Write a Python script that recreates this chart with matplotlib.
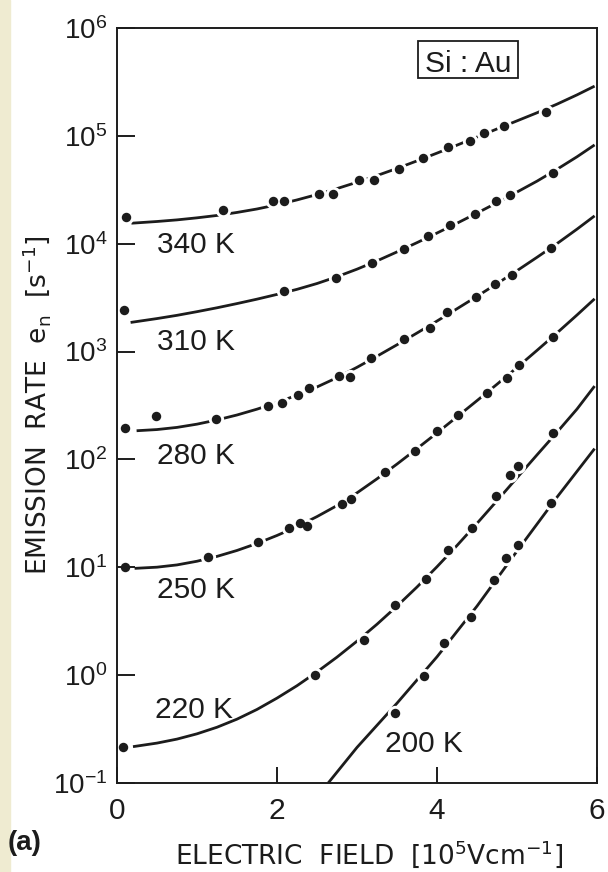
import numpy as np
import matplotlib.pyplot as plt
from matplotlib.patches import Rectangle
from matplotlib.ticker import NullLocator

# emission rate e_n [s^-1] of the Au acceptor level in Si vs. electric field [1e5 V/cm]
field_340 = [0.11, 1.33, 1.95, 2.09, 2.52, 2.70, 3.03, 3.21, 3.52, 3.82, 4.14, 4.41, 4.59, 4.84, 5.36]
rate_340 = [17800, 20400, 25100, 25100, 28700, 28700, 38900, 38900, 49000, 61700, 78300, 89100,
            106000, 124000, 166000]

field_310 = [0.09, 2.09, 2.74, 3.19, 3.59, 3.89, 4.16, 4.47, 4.74, 4.91, 5.45]
rate_310 = [2430, 3650, 4790, 6670, 8910, 11700, 14900, 18900, 24700, 28200, 45000]

field_280 = [0.10, 0.49, 1.24, 1.89, 2.06, 2.26, 2.40, 2.78, 2.91, 3.17, 3.59, 3.91, 4.12, 4.49,
             4.73, 4.94, 5.43]
rate_280 = [197, 253, 235, 315, 336, 398, 456, 594, 585, 867, 1300, 1640, 2310, 3180, 4210, 5130, 9060]

field_250 = [0.10, 1.14, 1.76, 2.15, 2.29, 2.37, 2.81, 2.93, 3.35, 3.73, 4.00, 4.26, 4.63, 4.87,
             5.03, 5.45]
rate_250 = [10.0, 12.4, 17.1, 23.0, 25.9, 24.2, 38.6, 43.0, 77.1, 120, 184, 258, 410, 565, 752, 1360]

field_220 = [0.08, 2.47, 3.09, 3.48, 3.86, 4.14, 4.44, 4.74, 4.91, 5.01, 5.45]
rate_220 = [0.217, 1.0, 2.12, 4.47, 7.80, 14.5, 23.3, 45.8, 71.8, 87.5, 175]

field_200 = [3.48, 3.84, 4.09, 4.42, 4.71, 4.86, 5.01, 5.42]
rate_200 = [0.449, 0.982, 1.97, 3.48, 7.62, 12.3, 16.1, 39.7]

# calculated curves, log10(e_n) on a common field grid (first entry = start of each curve)
curve_grid = [0.5, 0.75, 1.0, 1.25, 1.5, 1.75, 2.0, 2.25, 2.5, 2.75, 3.0, 3.25, 3.5, 3.75, 4.0,
              4.25, 4.5, 4.75, 5.0, 5.25, 5.5, 5.75, 5.97]
curve_start = {"340 K": 0.18, "310 K": 0.17, "280 K": 0.245, "250 K": 0.22, "220 K": 0.20}
log_curve_340 = [4.19, 4.206, 4.221, 4.24, 4.262, 4.29, 4.322, 4.361, 4.406, 4.456, 4.511, 4.57,
                 4.632, 4.698, 4.768, 4.84, 4.914, 4.989, 5.064, 5.139, 5.214, 5.294, 5.38, 5.461]
log_curve_310 = [3.27, 3.306, 3.336, 3.37, 3.406, 3.445, 3.486, 3.53, 3.577, 3.631, 3.694, 3.764,
                 3.841, 3.924, 4.01, 4.099, 4.19, 4.284, 4.38, 4.479, 4.58, 4.69, 4.806, 4.916]
log_curve_280 = [2.266, 2.277, 2.297, 2.327, 2.366, 2.412, 2.466, 2.527, 2.596, 2.672, 2.758, 2.854,
                 2.957, 3.063, 3.172, 3.283, 3.397, 3.512, 3.63, 3.75, 3.874, 4.001, 4.135, 4.258]
log_curve_250 = [0.99, 1.001, 1.022, 1.056, 1.101, 1.156, 1.221, 1.295, 1.377, 1.47, 1.572, 1.69,
                 1.82, 1.957, 2.10, 2.246, 2.395, 2.545, 2.697, 2.852, 3.011, 3.173, 3.339, 3.489]
log_curve_220 = [-0.663, -0.63, -0.593, -0.544, -0.483, -0.408, -0.318, -0.213, -0.098, 0.03, 0.167,
                 0.315, 0.472, 0.64, 0.817, 1.005, 1.202, 1.407, 1.617, 1.83, 2.042, 2.252, 2.467, 2.68]

curve_field_200 = [2.64, 3.0, 3.5, 4.0, 4.5, 5.0, 5.5, 5.97]
log_curve_200 = [-1.0, -0.67, -0.26, 0.17, 0.64, 1.15, 1.65, 2.10]

temperatures = ["340 K", "310 K", "280 K", "250 K", "220 K", "200 K"]

INK = "#1c1c1c"

plt.rcParams["font.family"] = ["Liberation Sans", "DejaVu Sans"]

fig = plt.figure(figsize=(6.08, 8.72), dpi=100)
ax = fig.add_axes([117 / 608, 89 / 872, 480 / 608, 755 / 872])

# page edge of the scan
fig.patches.append(Rectangle((0, 0), 10 / 608, 1, transform=fig.transFigure,
                             color="#efebd1", zorder=0))

measured = [(field_340, rate_340), (field_310, rate_310), (field_280, rate_280),
            (field_250, rate_250), (field_220, rate_220), (field_200, rate_200)]
log_curves = [log_curve_340, log_curve_310, log_curve_280, log_curve_250, log_curve_220]
curves = [([curve_start[t]] + curve_grid, np.power(10.0, lc))
          for t, lc in zip(temperatures[:5], log_curves)]
curves.append((curve_field_200, np.power(10.0, log_curve_200)))

label_pos = [(0.50, 8200), (0.50, 1035), (0.50, 90.7), (0.50, 5.19), (0.475, 0.40), (3.35, 0.194)]

for (cx, cy), (mx, my), name, (lx, ly) in zip(curves, measured, temperatures, label_pos):
    ax.plot(cx, cy, color=INK, lw=2.0, solid_capstyle="butt", solid_joinstyle="round", zorder=2)
    # white halo so the curve is broken around each point
    ax.plot(mx, my, "o", ms=11, color="white", mec="none", zorder=3)
    ax.plot(mx, my, "o", ms=6.8, color=INK, mec="none", zorder=4)
    ax.text(lx, ly, name, fontsize=21.5, color=INK, ha="left", va="baseline")

ax.set_yscale("log")
ax.set_xlim(0, 6)
ax.set_ylim(1e-1, 1e6)
ax.yaxis.set_minor_locator(NullLocator())
ax.set_yticks([10.0 ** k for k in range(-1, 7)])
ax.set_yticklabels([r"$\mathregular{10^{%d}}$" % k for k in range(-1, 7)])
ax.set_xticks([0, 2, 4, 6])
ax.set_xticklabels(["0", "2", "4", "6"])
ax.tick_params(axis="y", direction="in", length=13, width=1.4, pad=7, labelsize=20, colors=INK)
ax.tick_params(axis="x", direction="in", length=11.5, width=1.4, pad=10, labelsize=21.5, colors=INK)
ax.xaxis.set_zorder(5)
ax.yaxis.set_zorder(5)
for sp in ax.spines.values():
    sp.set_linewidth(1.4)
    sp.set_color(INK)
    sp.set_zorder(5)

ax.set_xlabel(r"ELECTRIC  FIELD  [$\mathregular{10^5Vcm^{-1}}$]", family="DejaVu Sans",
              fontsize=19, color=INK)
ax.xaxis.set_label_coords(0.525, -0.074)
ax.set_ylabel(r"EMISSION  RATE  $\mathregular{e_n}$  [$\mathregular{s^{-1}}$]", family="DejaVu Sans",
              fontsize=19, color=INK)
ax.yaxis.set_label_coords(-0.134, 0.5)

# sample box
ax.add_patch(Rectangle((0.627, 0.934), 0.208, 0.049, transform=ax.transAxes, fill=False,
                       lw=1.3, ec=INK, zorder=6))
ax.text(0.731, 0.9417, "Si : Au", transform=ax.transAxes, fontsize=21.5, color=INK,
        ha="center", va="baseline", zorder=6)

fig.text(0.012, 0.033, "(a)", fontsize=20, fontweight="bold", color=INK, ha="left", va="center")

fig.savefig("out.png", dpi=100)
